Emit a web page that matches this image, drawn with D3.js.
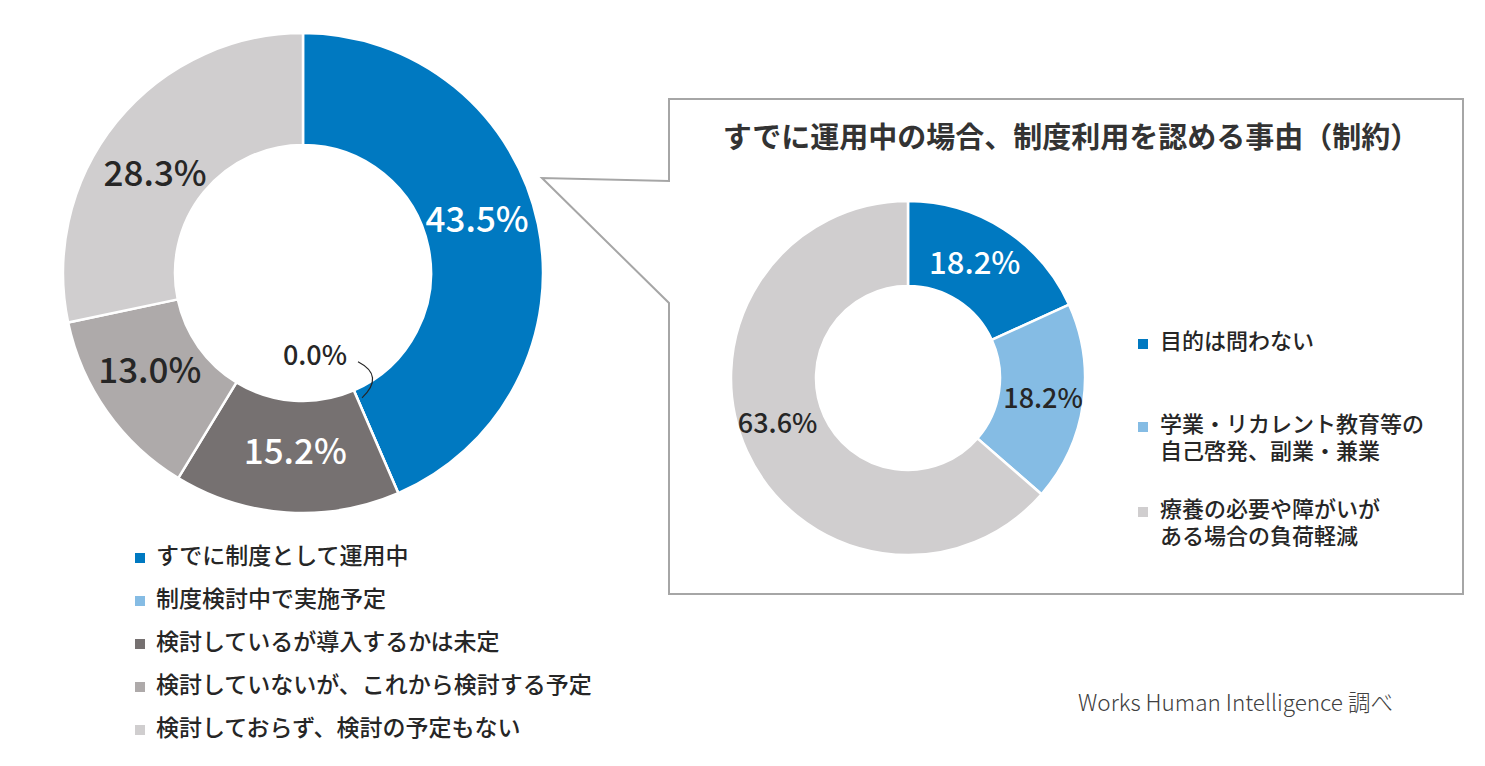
<!DOCTYPE html>
<html>
<head>
<meta charset="utf-8">
<script src="https://cdn.jsdelivr.net/npm/d3@7"></script>
<style>
  body { margin: 0; background: #fff; }
  text { font-family: "Noto Sans CJK JP", "Noto Sans", sans-serif; }
</style>
</head>
<body>
<div class="container"></div>
<script>
// data
const mainCategories = ['すでに制度として運用中', '制度検討中で実施予定', '検討しているが導入するかは未定', '検討していないが、これから検討する予定', '検討しておらず、検討の予定もない'];
const mainValues = [43.5, 0.0, 15.2, 13.0, 28.3];
const subTitle = 'すでに運用中の場合、制度利用を認める事由（制約）';
const subCategories = [['目的は問わない'], ['学業・リカレント教育等の', '自己啓発、副業・兼業'], ['療養の必要や障がいが', 'ある場合の負荷軽減']];
const subValues = [18.2, 18.2, 63.6];
const sourceNote = 'Works Human Intelligence 調べ';

const WIDTH = 1485;
const HEIGHT = 766;

const mainColors = ['#0079c1', '#85bce4', '#767171', '#aeaaaa', '#d0cecf'];
const subColors = ['#0079c1', '#85bce4', '#d0cecf'];

var svg = d3.select('.container').append('svg')
    .attr('width', WIDTH)
    .attr('height', HEIGHT);

var pie = d3.pie().sort(null).value(function (d) { return d; });

//callout box behind right chart
var boxL = 669, boxT = 99, boxR = 1463, boxB = 594;
var tipX = 542, tipY = 178;
svg.append('path')
    .attr('d', 'M' + boxL + ',' + boxT + 'H' + boxR + 'V' + boxB + 'H' + boxL + 'V303L' + tipX + ',' + tipY + 'L' + boxL + ',181Z')
    .attr('fill', '#fff')
    .attr('stroke', '#a6a6a6')
    .attr('stroke-width', 2);

// ---------- left donut ----------
var lc = { x: 303, y: 273 }, lOuter = 240, lInner = 128;
var lArc = d3.arc().innerRadius(lInner).outerRadius(lOuter);
var left = svg.append('g').attr('transform', 'translate(' + lc.x + ',' + lc.y + ')');
var lData = pie(mainValues);

left.selectAll('path').data(lData)
    .enter().append('path')
    .attr('d', lArc)
    .attr('fill', function (d, i) { return mainColors[i]; })
    .attr('stroke', '#fff')
    .attr('stroke-width', 2.5);

var lNudge = [[-6, -16], [0, 0], [5, -5], [-3, -9], [-5, 16]];
var lLabelColor = ['#fff', '#262626', '#fff', '#262626', '#262626'];
left.selectAll('text.val').data(lData)
    .enter().filter(function (d) { return d.value > 0; }).append('text')
    .attr('class', 'val')
    .attr('x', function (d) { return lArc.centroid(d)[0] + lNudge[d.index][0]; })
    .attr('y', function (d) { return lArc.centroid(d)[1] + lNudge[d.index][1]; })
    .attr('dy', '0.36em')
    .attr('text-anchor', 'middle')
    .attr('font-size', 35)
    .attr('font-weight', 500)
    .attr('fill', function (d) { return lLabelColor[d.index]; })
    .text(function (d) { return d.value.toFixed(1) + '%'; });

// zero slice label with curved leader
var zero = lData[1];
var za = zero.startAngle;
var zEnd = [Math.sin(za) * (lInner + 8), -Math.cos(za) * (lInner + 8)];
var zLabel = [zEnd[0] - 42, zEnd[1] - 43];
left.append('text')
    .attr('x', zLabel[0])
    .attr('y', zLabel[1])
    .attr('dy', '0.36em')
    .attr('text-anchor', 'middle')
    .attr('font-size', 27)
    .attr('font-weight', 500)
    .attr('fill', '#262626')
    .text(zero.value.toFixed(1) + '%');
left.append('path')
    .attr('d', 'M' + (zLabel[0] + 43) + ',' + (zLabel[1] + 7) +
        'Q' + (zEnd[0] + 28) + ',' + (zEnd[1] - 22) + ' ' + (zEnd[0] + 5) + ',' + zEnd[1])
    .attr('fill', 'none')
    .attr('stroke', '#262626')
    .attr('stroke-width', 1.2);

// left legend
var lLegend = svg.append('g').attr('transform', 'translate(135,556)');
var lRow = lLegend.selectAll('g').data(mainCategories)
    .enter().append('g')
    .attr('transform', function (d, i) { return 'translate(0,' + (i * 43) + ')'; });
lRow.append('rect')
    .attr('x', 0).attr('y', -3).attr('width', 10).attr('height', 10)
    .attr('fill', function (d, i) { return mainColors[i]; });
lRow.append('text')
    .attr('x', 21).attr('dy', '0.36em')
    .attr('font-size', 23)
    .attr('font-weight', 500)
    .attr('fill', '#262626')
    .text(function (d) { return d; });

// ---------- right donut ----------
svg.append('text')
    .attr('x', 1071).attr('y', 138).attr('dy', '0.36em')
    .attr('text-anchor', 'middle')
    .attr('font-size', 29)
    .attr('font-weight', 'bold')
    .attr('fill', '#333')
    .text(subTitle);

var rc = { x: 908, y: 378 }, rOuter = 177, rInner = 92;
var rArc = d3.arc().innerRadius(rInner).outerRadius(rOuter);
var right = svg.append('g').attr('transform', 'translate(' + rc.x + ',' + rc.y + ')');
var rData = pie(subValues);

right.selectAll('path').data(rData)
    .enter().append('path')
    .attr('d', rArc)
    .attr('fill', function (d, i) { return subColors[i]; })
    .attr('stroke', '#fff')
    .attr('stroke-width', 2.5);

var rNudge = [[-6, -2], [2, 1], [-8, -10]];
var rLabelColor = ['#fff', '#262626', '#262626'];
var rLabelSize = [31, 27, 27];
right.selectAll('text').data(rData)
    .enter().append('text')
    .attr('x', function (d) { return rArc.centroid(d)[0] + rNudge[d.index][0]; })
    .attr('y', function (d) { return rArc.centroid(d)[1] + rNudge[d.index][1]; })
    .attr('dy', '0.36em')
    .attr('text-anchor', 'middle')
    .attr('font-size', function (d) { return rLabelSize[d.index]; })
    .attr('font-weight', 500)
    .attr('fill', function (d) { return rLabelColor[d.index]; })
    .text(function (d) { return d.value.toFixed(1) + '%'; });

// right legend (wrapped labels as tspans)
var rRowY = [341, 424, 509];
var rLegend = svg.append('g').attr('transform', 'translate(1138,0)');
var rRow = rLegend.selectAll('g').data(subCategories)
    .enter().append('g')
    .attr('transform', function (d, i) { return 'translate(0,' + rRowY[i] + ')'; });
rRow.append('rect')
    .attr('x', 0).attr('y', -2).attr('width', 10).attr('height', 10)
    .attr('fill', function (d, i) { return subColors[i]; });
rRow.append('text')
    .attr('y', 0)
    .attr('font-size', 22)
    .attr('font-weight', 500)
    .attr('fill', '#262626')
    .selectAll('tspan').data(function (d) { return d; })
    .enter().append('tspan')
    .attr('x', 22)
    .attr('y', function (d, j) { return j * 27; })
    .attr('dy', '0.36em')
    .text(function (d) { return d; });

// source
svg.append('text')
    .attr('x', 1078).attr('y', 703).attr('dy', '0.36em')
    .attr('font-size', 22.5)
    .attr('font-weight', 300)
    .attr('fill', '#404040')
    .text(sourceNote);
</script>
</body>
</html>
